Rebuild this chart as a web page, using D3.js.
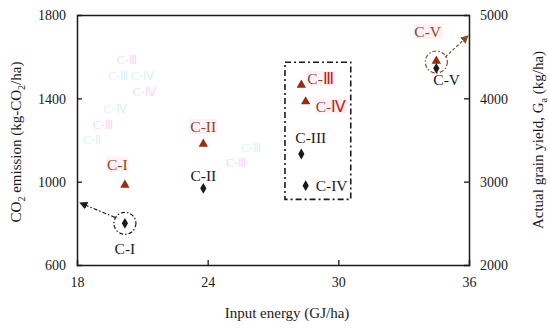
<!DOCTYPE html>
<html><head><meta charset="utf-8">
<script src="https://cdn.jsdelivr.net/npm/d3@7"></script>
<style>body{margin:0;background:#fff}svg{display:block}text{font-family:"Liberation Serif","Times New Roman",serif}</style>
</head><body>
<svg id="c" width="550" height="328"></svg>
<script>
const labels = ["C-I","C-II","C-III","C-IV","C-V"];
const triLabelsPre = ["C-I","C-II","C-","C-","C-V"];
const triLabelsNum = ["","","Ⅲ","Ⅳ",""];
const energy = [20.2, 23.8, 28.3, 28.5, 34.5];
const co2 = [800, 968, 1133, 981, 1544];
const grain = [2960, 3452, 4160, 3960, 4448];
const xTicks = [18, 24, 30, 36];
const yLeftTicks = [600, 1000, 1400, 1800];
const yRightTicks = [2000, 3000, 4000, 5000];
const ghostText = ["C-Ⅲ","C-Ⅲ  C-Ⅳ","C-Ⅳ","C-Ⅳ","C-Ⅲ","C-Ⅱ"];

const svg = d3.select("#c");
const m = {l:77, r:469, t:15, b:265};
const x = d3.scaleLinear().domain([18,36]).range([m.l,m.r]);
const yL = d3.scaleLinear().domain([600,1800]).range([m.b,m.t]);
const yR = d3.scaleLinear().domain([2000,5000]).range([m.b,m.t]);
const ink = "#1a1a1a", brown = "#8a4a25", triFill = "#9b2a10", red = "#c8200e";

// faint ghost artifacts
const ghostPos = [[127,60],[131,76],[144,92],[115,109],[103,125],[92,140]];
svg.append("g").selectAll("text").data(ghostText).join("text")
  .attr("x",(d,i)=>ghostPos[i][0]).attr("y",(d,i)=>ghostPos[i][1]+4)
  .attr("text-anchor","middle").attr("font-size",12).attr("fill",(d,i)=>i%2?"#d6f3f8":"#f8d6f4").text(d=>d);
svg.append("text").attr("x",251).attr("y",152).attr("text-anchor","middle").attr("font-size",12).attr("fill","#d6f3f8").text("C-Ⅲ");
svg.append("text").attr("x",236).attr("y",167).attr("text-anchor","middle").attr("font-size",12).attr("fill","#f8d6f4").text("C-Ⅲ");

// axes
const fmt = d3.format("d");
const gB = svg.append("g").attr("transform",`translate(0,${m.b})`)
  .call(d3.axisBottom(x).tickValues(xTicks).tickSize(-5).tickPadding(12).tickFormat(fmt));
const gT = svg.append("g").attr("transform",`translate(0,${m.t})`)
  .call(d3.axisTop(x).tickValues([]).tickSize(0));
const gL = svg.append("g").attr("transform",`translate(${m.l},0)`)
  .call(d3.axisLeft(yL).tickValues(yLeftTicks).tickSize(-5).tickPadding(11).tickFormat(fmt));
const gR = svg.append("g").attr("transform",`translate(${m.r},0)`)
  .call(d3.axisRight(yR).tickValues(yRightTicks).tickSize(-5).tickPadding(11).tickFormat(fmt));
[gB,gT,gL,gR].forEach(g=>{
  g.select(".domain").attr("stroke",ink).attr("stroke-width",1.5);
  g.selectAll(".tick line").attr("stroke",ink).attr("stroke-width",1.3);
  g.selectAll(".tick text").attr("font-size",14).attr("fill",ink);
});
gB.selectAll(".tick line").filter(d=>d===18||d===36).remove();
gL.selectAll(".tick line").filter(d=>d===600||d===1800).remove();
gR.selectAll(".tick line").filter(d=>d===2000||d===5000).remove();
gL.selectAll(".tick text").attr("dy","0.35em");
gR.selectAll(".tick text").attr("dy","0.35em");

// axis titles
svg.append("text").attr("x",287).attr("y",318).attr("text-anchor","middle").attr("font-size",15).attr("fill",ink).text("Input energy (GJ/ha)");
const lt = svg.append("text").attr("transform","translate(21,142) rotate(-90)").attr("text-anchor","middle").attr("font-size",15).attr("fill",ink);
lt.append("tspan").text("CO");
lt.append("tspan").attr("font-size",10).attr("dy",4).text("2");
lt.append("tspan").attr("dy",-4).text(" emission (kg-CO");
lt.append("tspan").attr("font-size",10).attr("dy",4).text("2");
lt.append("tspan").attr("dy",-4).text("/ha)");
const rt = svg.append("text").attr("transform","translate(543,140) rotate(-90)").attr("text-anchor","middle").attr("font-size",15).attr("fill",ink);
rt.append("tspan").text("Actual grain yield, G");
rt.append("tspan").attr("font-size",10).attr("dy",4).text("a");
rt.append("tspan").attr("dy",-4).text(" (kg/ha)");

// dash-dot box
const boxX = [27.55, 30.57], boxY = [1573, 915];
svg.append("rect").attr("x",x(boxX[0])).attr("y",yL(boxY[0]))
  .attr("width",x(boxX[1])-x(boxX[0])).attr("height",yL(boxY[1])-yL(boxY[0]))
  .attr("fill","none").attr("stroke",ink).attr("stroke-width",1.6).attr("stroke-dasharray","6,3,2,3");

const dia = d3.symbol().type(d3.symbolDiamond).size(34);
const tri = d3.symbol().type(d3.symbolTriangle).size(38);
const idx = d3.range(labels.length);

// triangle labels
const triDx = [-18,-13,6,10,-22], triDy = [-15.5,-12,-1,10,-24];
const tl = svg.append("g").selectAll("text").data(idx).join("text")
  .attr("x",i=>x(energy[i])+triDx[i]).attr("y",i=>yR(grain[i])+triDy[i])
  .attr("font-size",15.5).attr("fill",brown);
tl.append("tspan").text(i=>triLabelsPre[i]);
tl.append("tspan").attr("fill",red).text(i=>triLabelsNum[i]);
tl.each(function(){
  const b=this.getBBox();
  svg.insert("rect","g").attr("x",b.x-1).attr("y",b.y+1).attr("width",b.width+2).attr("height",b.height-2).attr("fill","#fdf0f6");
});

svg.append("g").selectAll("path").data(idx).join("path")
  .attr("d",tri).attr("transform",i=>`translate(${x(energy[i])},${yR(grain[i])})`).attr("fill",triFill);
svg.append("g").selectAll("path").data(idx).join("path")
  .attr("d",dia).attr("transform",i=>`translate(${x(energy[i])},${yL(co2[i])})`).attr("fill",ink);

// diamond labels
const dDx = [0,0,-6,10,-3], dDy = [31,-7,-11,5,17], dAnchor = ["middle","middle","start","start","start"];
svg.append("g").selectAll("text").data(idx).join("text")
  .attr("x",i=>x(energy[i])+dDx[i]).attr("y",i=>yL(co2[i])+dDy[i])
  .attr("text-anchor",i=>dAnchor[i]).attr("font-size",15.5).attr("fill",ink).text(i=>labels[i]);

// circles
svg.append("circle").attr("cx",x(energy[0])).attr("cy",yL(co2[0])).attr("r",11)
  .attr("fill","none").attr("stroke",ink).attr("stroke-width",1.2).attr("stroke-dasharray","4,2,1.5,2");
svg.append("circle").attr("cx",x(energy[4])).attr("cy",yR(grain[4])+1).attr("r",11)
  .attr("fill","none").attr("stroke",brown).attr("stroke-width",1.2).attr("stroke-dasharray","4,2,1.5,2");

// arrows
const defs = svg.append("defs");
function mk(id,col){
  defs.append("marker").attr("id",id).attr("viewBox","0 0 10 10").attr("refX",9).attr("refY",5)
    .attr("markerWidth",8).attr("markerHeight",8).attr("orient","auto").attr("markerUnits","userSpaceOnUse")
    .append("path").attr("d","M0,0L10,5L0,10z").attr("fill",col);
}
mk("ak",ink); mk("ab",brown);
const a1 = {x0:x(energy[0])-10, y0:yL(co2[0])-6, x1:x(18)+3, y1:yL(898)};
svg.append("line").attr("x1",a1.x0).attr("y1",a1.y0).attr("x2",a1.x1).attr("y2",a1.y1)
  .attr("stroke",ink).attr("stroke-width",1.2).attr("stroke-dasharray","4,2,1.5,2").attr("marker-end","url(#ak)");
const a2 = {x0:x(energy[4])+9, y0:yR(grain[4])-4, x1:x(36)-1, y1:yR(4750)};
svg.append("line").attr("x1",a2.x0).attr("y1",a2.y0).attr("x2",a2.x1).attr("y2",a2.y1)
  .attr("stroke",brown).attr("stroke-width",1.2).attr("stroke-dasharray","3,2").attr("marker-end","url(#ab)");
</script>
</body></html>
